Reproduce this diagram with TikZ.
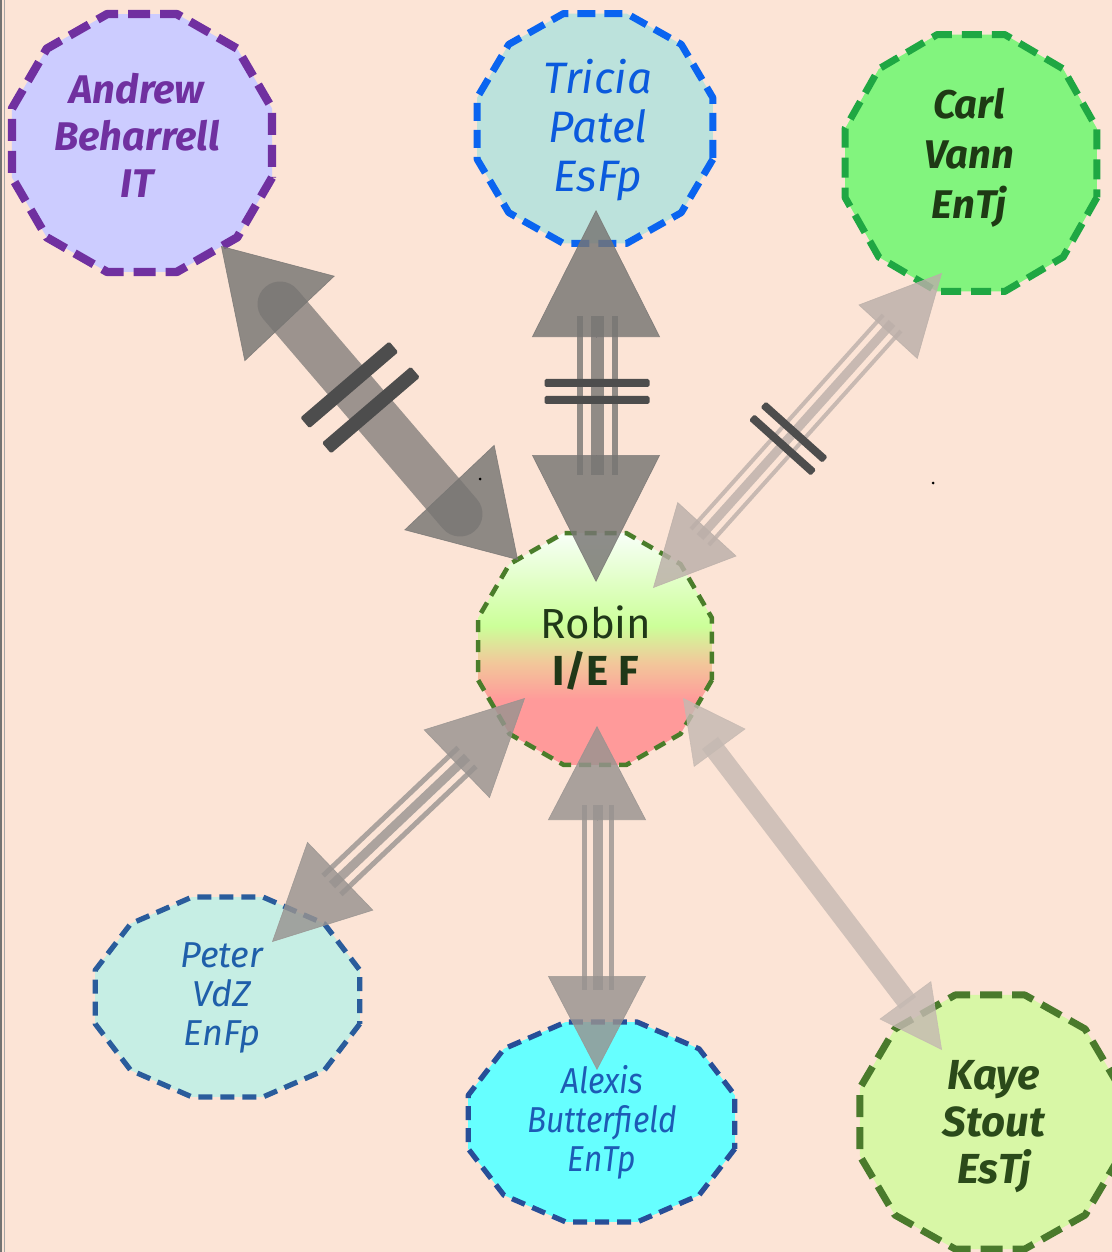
\documentclass[tikz,border=0pt]{standalone}
\usepackage{fontspec}
\setmainfont{Fira Sans}
\usepackage{graphicx}
\usetikzlibrary{arrows.meta,calc}
\definecolor{bgpeach}{HTML}{FCE4D6}
\definecolor{rpink}{HTML}{FF9A9A}
\definecolor{rtan}{HTML}{F2C79A}
\definecolor{rgreen}{HTML}{CCFF99}
\definecolor{rlgreen}{HTML}{E2FFC8}
\definecolor{rwhite}{HTML}{F8FFF8}
\definecolor{andrewfill}{HTML}{CCCCFF}
\definecolor{andrewline}{HTML}{7030A0}
\definecolor{andrewtext}{HTML}{7030A0}
\definecolor{triciafill}{HTML}{BCE2DC}
\definecolor{tricialine}{HTML}{0A64F0}
\definecolor{triciatext}{HTML}{0B5ADD}
\definecolor{carlfill}{HTML}{82F47E}
\definecolor{carlline}{HTML}{1FA743}
\definecolor{carltext}{HTML}{1E3A14}
\definecolor{robinline}{HTML}{4A7D2A}
\definecolor{robintext}{HTML}{203818}
\definecolor{peterfill}{HTML}{C6EEE4}
\definecolor{peterline}{HTML}{2A5C9C}
\definecolor{petertext}{HTML}{1F5FAA}
\definecolor{alexisfill}{HTML}{66FFFF}
\definecolor{alexisline}{HTML}{274E98}
\definecolor{alexistext}{HTML}{1D5BB5}
\definecolor{kayefill}{HTML}{D8F7A6}
\definecolor{kayeline}{HTML}{4A7A2C}
\definecolor{kayetext}{HTML}{2B4A1A}
\definecolor{arrowdark}{HTML}{777573}
\definecolor{arrowmid}{HTML}{989390}
\definecolor{arrowlight}{HTML}{BBAFA9}
\definecolor{arrowpale}{HTML}{C5B9B2}
\definecolor{tickc}{HTML}{4D4D4D}
\pgfdeclareverticalshading{robinshade}{100bp}{color(0bp)=(rpink); color(25bp)=(rpink); color(39bp)=(rpink); color(47bp)=(rtan); color(55bp)=(rgreen); color(65bp)=(rlgreen); color(75bp)=(rwhite); color(100bp)=(rwhite)}
\pgfdeclarelayer{back}
\pgfdeclarelayer{blobs}
\pgfsetlayers{back,blobs,main}
\newcommand\myblob[6]{\begin{scope}[shift={($(#1)+(#2,#3)$)}]\draw[#6] plot[domain=15:345,samples=12] ({#4*cos(\x)},{#5*sin(\x)}) -- cycle;\end{scope}}
% two arrow heads at the ends of a connector: #1,#2 end points, #3 colour, #4 length, #5 width
\newcommand\bihead[5]{%
  \draw[headone={#3}{#4}{#5}] ($(#1)!#4!(#2)$) -- (#1);
  \draw[headone={#3}{#4}{#5}] ($(#2)!#4!(#1)$) -- (#2);}
\tikzset{
  lbl/.style={align=center, inner sep=0pt},
  blobA/.style={fill=andrewfill, draw=andrewline, line width=4.2pt, dash pattern=on 11pt off 5pt, line join=round},
  blobT/.style={fill=triciafill, draw=tricialine, line width=3.5pt, dash pattern=on 9pt off 4.5pt, line join=round},
  blobC/.style={fill=carlfill, draw=carlline, line width=3.5pt, dash pattern=on 10pt off 5pt, line join=round},
  blobR/.style={shade, shading=robinshade, draw=robinline, line width=2.3pt, dash pattern=on 6pt off 4pt, line join=round},
  blobP/.style={fill=peterfill, draw=peterline, line width=2.6pt, dash pattern=on 7pt off 4pt, line join=round},
  blobX/.style={fill=alexisfill, draw=alexisline, line width=2.6pt, dash pattern=on 7pt off 4pt, line join=round},
  blobK/.style={fill=kayefill, draw=kayeline, line width=3.5pt, dash pattern=on 11pt off 5pt, line join=round},
  headone/.style n args={3}{draw=#1, line width=0.3pt, opacity=0.82, arrows={-Triangle[length=#2,width=#3]}},
  shaft/.style 2 args={draw=#1, line width=#2, opacity=0.8},
  tickbar/.style 2 args={sloped, rectangle, fill=tickc, minimum width=#1, minimum height=#2, inner sep=0pt, rounded corners=0.8pt}
}
\begin{document}
\begin{tikzpicture}[x=0.5pt,y=-0.5pt]
\useasboundingbox (0,0) rectangle (1112,1252);
\begin{pgfonlayer}{back}
\fill[bgpeach] (0,0) rectangle (1112,1252);
\draw[line width=1pt, black!55] (1,0) -- (1,1252);
\draw[line width=0.6pt, black!35] (4.5,0) -- (4.5,1252);
\end{pgfonlayer}

% text nodes
\node[lbl, text=andrewtext, font=\fontsize{20}{23.5}\selectfont\bfseries\itshape] (Andrew) at (137,135) {Andrew\\Beharrell\\IT};
\node[lbl, text=triciatext, font=\fontsize{22}{24.5}\selectfont\itshape] (Tricia) at (598,130) {Tricia\\Patel\\EsFp};
\node[lbl, text=carltext, font=\fontsize{20}{25}\selectfont\bfseries\itshape] (Carl) at (969,158) {Carl\\Vann\\EnTj};
\node[lbl, text=robintext, font=\fontsize{21}{23.5}\selectfont] (Robin) at (596,648) {Robin\\\textbf{I/E F}};
\node[lbl, text=petertext, font=\fontsize{18}{19.5}\selectfont\itshape] (Peter) at (222,997.5) {Peter\\VdZ\\EnFp};
\node[lbl, text=alexistext, font=\fontsize{18}{19.5}\selectfont\itshape] (Alexis) at (602,1122) {\scalebox{0.88}[1]{Alexis}\\\scalebox{0.88}[1]{Butterfield}\\\scalebox{0.88}[1]{EnTp}};
\node[lbl, text=kayetext, font=\fontsize{21}{23.5}\selectfont\bfseries\itshape] (Kaye) at (994,1127) {Kaye\\Stout\\EsTj};

% node shapes
\begin{pgfonlayer}{blobs}
\myblob{Andrew}{5}{8}{134.6}{133.5}{blobA}
\myblob{Tricia}{-3}{-1.5}{122}{119}{blobT}
\myblob{Carl}{2}{5}{130.4}{133}{blobC}
\myblob{Robin}{-1}{1}{121}{120}{blobR}
\myblob{Peter}{5.5}{-0.5}{137}{103.5}{blobP}
\myblob{Alexis}{-0.5}{0}{138}{103.5}{blobX}
\myblob{Kaye}{-4}{-5}{134.6}{131.5}{blobK}
\end{pgfonlayer}

% connector end points (arrow tips), placed relative to the nodes
\coordinate (hA1) at ($(Andrew)+(84,111)$);
\coordinate (hA2) at ($(Robin)+(-78,-88)$);
\coordinate (hT1) at ($(Tricia)+(-2,80)$);
\coordinate (hT2) at ($(Robin)+(0,-66)$);
\coordinate (hC1) at ($(Carl)+(-27,115)$);
\coordinate (hC2) at ($(Robin)+(57,-60)$);
\coordinate (hP1) at ($(Peter)+(50,-55.5)$);
\coordinate (hP2) at ($(Robin)+(-71,50)$);
\coordinate (hX1) at ($(Alexis)+(-5,-52)$);
\coordinate (hX2) at ($(Robin)+(1,78)$);
\coordinate (hK1) at ($(Kaye)+(-52,-77)$);
\coordinate (hK2) at ($(Robin)+(87,50)$);

% Andrew -- Robin
\bihead{hA1}{hA2}{arrowdark}{50pt}{62pt}
\draw[shaft={arrowdark}{22.5pt}, opacity=0.72, line cap=round] ($(Andrew)+(143,169)$) -- ($(Robin)+(-136,-134)$);
\path ($(Andrew)+(143,169)$) -- ($(Robin)+(-136,-134)$)
  node[tickbar={7pt}{58.5pt}, pos=0.385] (tA1) {}
  node[tickbar={7pt}{58.5pt}, pos=0.505] (tA2) {};

% Tricia -- Robin
\bihead{hT1}{hT2}{arrowdark}{63.5pt}{64pt}
\draw[shaft={arrowdark}{6.5pt}] ($(Tricia)+(-1,186)$) -- ($(Robin)+(1,-173)$);
\draw[shaft={arrowdark}{3pt}] ($(Tricia)+(-18.5,186)$) -- ($(Robin)+(-16.5,-173)$);
\draw[shaft={arrowdark}{3pt}] ($(Tricia)+(16.5,186)$) -- ($(Robin)+(18.5,-173)$);
\path ($(Tricia)+(-1,186)$) -- ($(Robin)+(1,-173)$)
  node[tickbar={4pt}{52.5pt}, pos=0.421] (tT1) {}
  node[tickbar={4pt}{52.5pt}, pos=0.528] (tT2) {};

% Carl -- Robin
\bihead{hC1}{hC2}{arrowlight}{40pt}{40pt}
\draw[shaft={arrowlight}{4.5pt}] ($(Robin)+(104,-111)$) -- ($(Carl)+(-77,165)$);
\draw[shaft={arrowlight}{2pt}] ($(Robin)+(112.9,-103)$) -- ($(Carl)+(-68.1,173)$);
\draw[shaft={arrowlight}{2pt}] ($(Robin)+(95.1,-119)$) -- ($(Carl)+(-85.9,157)$);
\path ($(Robin)+(104,-111)$) -- ($(Carl)+(-77,165)$)
  node[tickbar={4pt}{41.5pt}, pos=0.43] (tC1) {}
  node[tickbar={4pt}{41.5pt}, pos=0.49] (tC2) {};

% Peter -- Robin
\bihead{hP1}{hP2}{arrowmid}{47.5pt}{47.5pt}
\draw[shaft={arrowmid}{4.5pt}] ($(Peter)+(110,-112.5)$) -- ($(Robin)+(-129,109)$);
\draw[shaft={arrowmid}{2.5pt}] ($(Peter)+(118.9,-103.1)$) -- ($(Robin)+(-120.1,118.4)$);
\draw[shaft={arrowmid}{2.5pt}] ($(Peter)+(101.1,-121.9)$) -- ($(Robin)+(-137.9,99.6)$);

% Alexis -- Robin
\bihead{hX1}{hX2}{arrowmid}{47pt}{49pt}
\draw[shaft={arrowmid}{5pt}] ($(Robin)+(1.5,157)$) -- ($(Alexis)+(-4.5,-132)$);
\draw[shaft={arrowmid}{2.5pt}] ($(Robin)+(-12,157)$) -- ($(Alexis)+(-18,-132)$);
\draw[shaft={arrowmid}{2.5pt}] ($(Robin)+(15,157)$) -- ($(Alexis)+(9,-132)$);

% Kaye -- Robin
\bihead{hK1}{hK2}{arrowpale}{31pt}{32pt}
\draw[shaft={arrowpale}{10pt}] ($(Robin)+(114,95)$) -- ($(Kaye)+(-86,-124)$);

% stray dots
\fill[black] (480,479) circle (1.5);
\fill[black] (933,483) circle (1.5);
\end{tikzpicture}
\end{document}
